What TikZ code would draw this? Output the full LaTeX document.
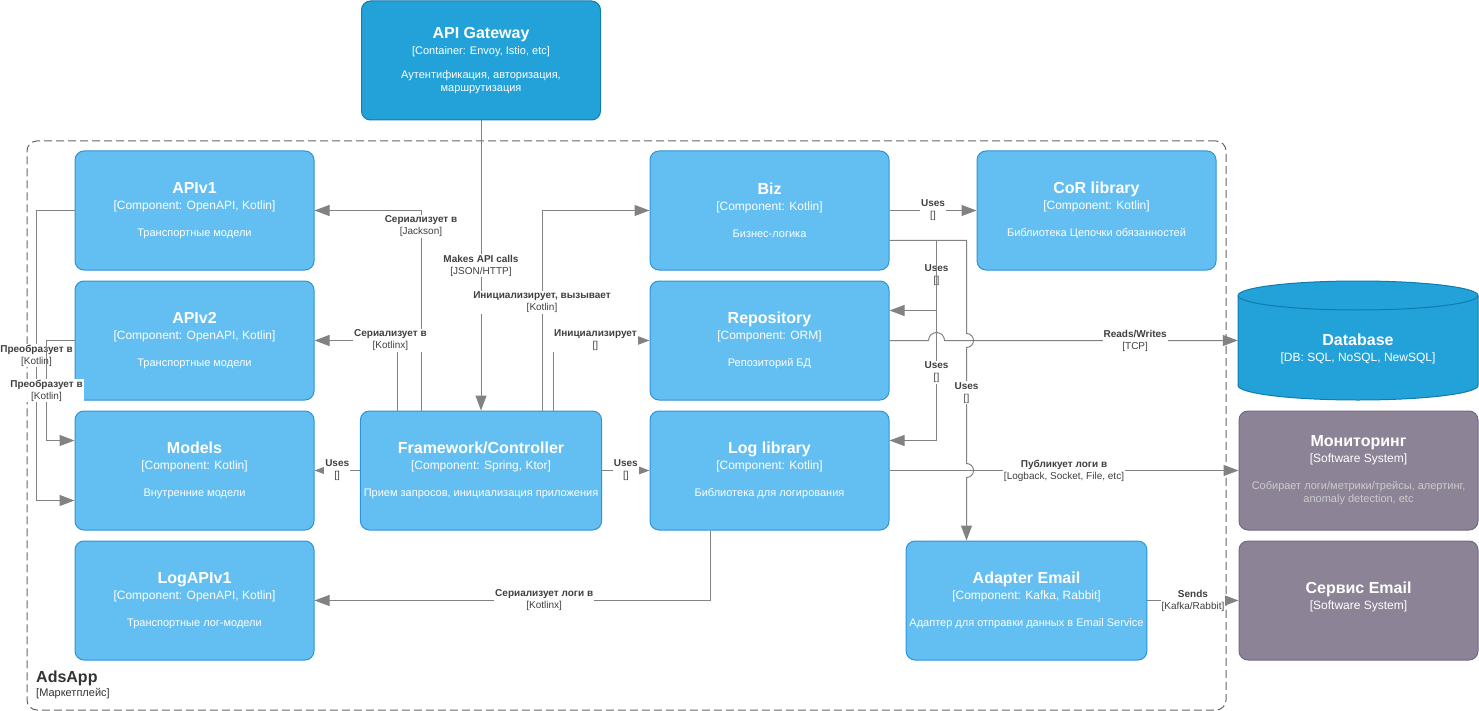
\documentclass[tikz,border=0pt]{standalone}
\usepackage{fontspec}
\setmainfont{Liberation Sans}
\usetikzlibrary{positioning, arrows.meta}

\definecolor{compfill}{HTML}{63BEF2}
\definecolor{compline}{HTML}{2D94D8}
\definecolor{contfill}{HTML}{23A2D9}
\definecolor{contline}{HTML}{0E7DAD}
\definecolor{extfill}{HTML}{8C8496}
\definecolor{extline}{HTML}{736782}
\definecolor{extdesc}{HTML}{CCCCCC}
\definecolor{relline}{HTML}{828282}
\definecolor{reltext}{HTML}{404040}
\definecolor{bndline}{HTML}{666666}
\definecolor{bndtext}{HTML}{333333}

\newcommand{\ctitle}[1]{{\fontsize{16}{16}\selectfont\bfseries #1}}
\newcommand{\ctech}[1]{{\fontsize{12}{14}\selectfont[#1]}}

\begin{document}
\begin{tikzpicture}[
        x=1pt, y=-1pt,
        comp/.style={draw=compline, fill=compfill, line width=1pt, rounded corners=9pt, minimum width=239pt, minimum height=119pt, text=white, align=center, font=\fontsize{11}{13}\selectfont},
        cont/.style={comp, draw=contline, fill=contfill},
        ext/.style={comp, draw=extline, fill=extfill},
        rel/.style={draw=relline, line width=1pt, -{Triangle[length=15pt, width=11pt]}},
        lbl/.style={fill=white, inner sep=1pt, text=reltext, align=center, font=\fontsize{10}{12}\selectfont},
    ]
    \useasboundingbox (0,0) rectangle (1479,711);

    % AdsApp boundary
    \node[draw=bndline, line width=1pt, dash pattern=on 8pt off 4pt, rounded corners=10pt, minimum width=1199pt, minimum height=569pt] (adsapp) at (626.5,425.5) {};
    \node[anchor=south west, align=left, text=bndtext, font=\fontsize{11}{13}\selectfont, inner sep=0pt] (adsapplbl) at (36,699) {{\fontsize{16}{16}\selectfont\bfseries AdsApp}\\[1pt]{[Маркетплейс]}};

    % API Gateway (container)
    \node[cont] (gw) at (481,60.5) {\ctitle{API Gateway}\\[3pt]{[Container: Envoy, Istio, etc]}\\[11pt]Аутентификация, авторизация,\\маршрутизация};

    % Transport models (left column)
    \node[comp] (apiv1) at (194.5,210.5) {\ctitle{APIv1}\\[3pt]\ctech{Component: OpenAPI, Kotlin}\\[14pt]Транспортные модели};
    \node[comp, below=10pt of apiv1] (apiv2) {\ctitle{APIv2}\\[3pt]\ctech{Component: OpenAPI, Kotlin}\\[14pt]Транспортные модели};
    \node[comp, below=10pt of apiv2] (models) {\ctitle{Models}\\[3pt]\ctech{Component: Kotlin}\\[14pt]Внутренние модели};
    \node[comp, below=10pt of models] (logapi) {\ctitle{LogAPIv1}\\[3pt]\ctech{Component: OpenAPI, Kotlin}\\[14pt]Транспортные лог-модели};

    % Framework
    \node[comp] (fw) at (481,470.5) {\ctitle{Framework/Controller}\\[3pt]\ctech{Component: Spring, Ktor}\\[14pt]Прием запросов, инициализация приложения};

    % Business logic column
    \node[comp] (biz) at (769.5,210.5) {\ctitle{Biz}\\[3pt]\ctech{Component: Kotlin}\\[14pt]Бизнес-логика};
    \node[comp, below=10pt of biz] (repo) {\ctitle{Repository}\\[3pt]\ctech{Component: ORM}\\[14pt]Репозиторий БД};
    \node[comp, below=10pt of repo] (loglib) {\ctitle{Log library}\\[3pt]\ctech{Component: Kotlin}\\[14pt]Библиотека для логирования};
    \node[comp] (cor) at (1096.5,210.5) {\ctitle{CoR library}\\[3pt]\ctech{Component: Kotlin}\\[14pt]Библиотека Цепочки обязанностей};
    \node[comp] (adapter) at (1026.5,600.5) {\ctitle{Adapter Email}\\[3pt]\ctech{Component: Kafka, Rabbit}\\[14pt]Адаптер для отправки данных в Email Service};

    % Database
    \path[draw=contline, fill=contfill, line width=1pt] (1238,295.5) -- (1238,385.5) arc[start angle=180, end angle=360, x radius=120pt, y radius=14.5pt] -- (1478,295.5) arc[start angle=0, end angle=180, x radius=120pt, y radius=14.5pt] -- cycle;
    \draw[contline, line width=1pt] (1238,295.5) arc[start angle=180, end angle=360, x radius=120pt, y radius=14.5pt];
    \node[minimum width=240pt, text=white, align=center, font=\fontsize{11}{13}\selectfont] (db) at (1358,349) {\ctitle{Database}\\[3pt]\ctech{DB: SQL, NoSQL, NewSQL}};

    % External systems
    \node[ext] (mon) at (1358.5,470.5) {\ctitle{Мониторинг}\\[3pt]\ctech{Software System}\\[14pt]\textcolor{extdesc}{Собирает логи/метрики/трейсы, алертинг,}\\\textcolor{extdesc}{anomaly detection, etc}};
    \node[ext, below=10pt of mon] (email) {\ctitle{Сервис Email}\\[3pt]\ctech{Software System}\\[-3pt]\mbox{}};

    % Relations
    \draw[rel] (gw) -- (fw) node[lbl, midway] {\textbf{Makes API calls}\\{[JSON/HTTP]}};
    \draw[rel] ([xshift=-60pt]fw.north) |- node[lbl, pos=0.46] {\textbf{Сериализует в}\\{[Jackson]}} (apiv1.east);
    \draw[rel] ([xshift=-84pt]fw.north) |- node[lbl, pos=0.54] {\textbf{Сериализует в}\\{[Kotlinx]}} (apiv2.east);
    \draw[rel] ([xshift=61pt]fw.north) |- node[lbl, pos=0.27] {\textbf{Инициализирует, вызывает}\\{[Kotlin]}} (biz.west);
    \draw[rel] ([xshift=72pt]fw.north) |- node[lbl, pos=0.72] {\textbf{Инициализирует}\\{[]}} (repo.west);
    \draw[rel] (fw) -- (models) node[lbl, midway] {\textbf{Uses}\\{[]}};
    \draw[rel] (fw) -- (loglib) node[lbl, midway] {\textbf{Uses}\\{[]}};

    \draw[rel] (apiv1.west) -- ++(-38,0) |- node[lbl, pos=0.25] {\textbf{Преобразует в}\\{[Kotlin]}} ([yshift=-30pt]models.west);
    \draw[rel] (apiv2.west) -- ++(-28,0) |- node[lbl, pos=0.25] {\textbf{Преобразует в}\\{[Kotlin]}} ([yshift=30pt]models.west);

    \draw[rel] (biz) -- (cor) node[lbl, midway] {\textbf{Uses}\\{[]}};
    \draw[rel] ([yshift=-30pt]biz.east) -- (936.5,240.5) |- node[lbl, pos=0.25] {\textbf{Uses}\\{[]}} ([yshift=30pt]repo.east);
    \draw[rel] ([yshift=-30pt]biz.east) -- (936.5,240.5) |- node[lbl, pos=0.33] {\textbf{Uses}\\{[]}} ([yshift=30pt]loglib.east);
    \draw[rel] ([yshift=-30pt]biz.east) -- (966.5,240.5) -- (966.5,333.5) arc(90:-90:7pt) -- (966.5,463.5) node[lbl, pos=0.39] {\textbf{Uses}\\{[]}} arc(90:-90:7pt) -- ([xshift=-60pt]adapter.north);

    \draw[rel] (repo.east) -- (928.5,340.5) arc(180:0:8pt) -- (repo.east -| db.west) node[lbl, pos=0.65] {\textbf{Reads/Writes}\\{[TCP]}};
    \draw[rel] (loglib) -- (mon) node[lbl, midway] {\textbf{Публикует логи в}\\{[Logback, Socket, File, etc]}};
    \draw[rel] ([xshift=-59pt]loglib.south) |- node[lbl, pos=0.71] {\textbf{Сериализует логи в}\\{[Kotlinx]}} (logapi.east);
    \draw[rel] (adapter) -- (email) node[lbl, midway] {\textbf{Sends}\\{[Kafka/Rabbit]}};
\end{tikzpicture}
\end{document}
